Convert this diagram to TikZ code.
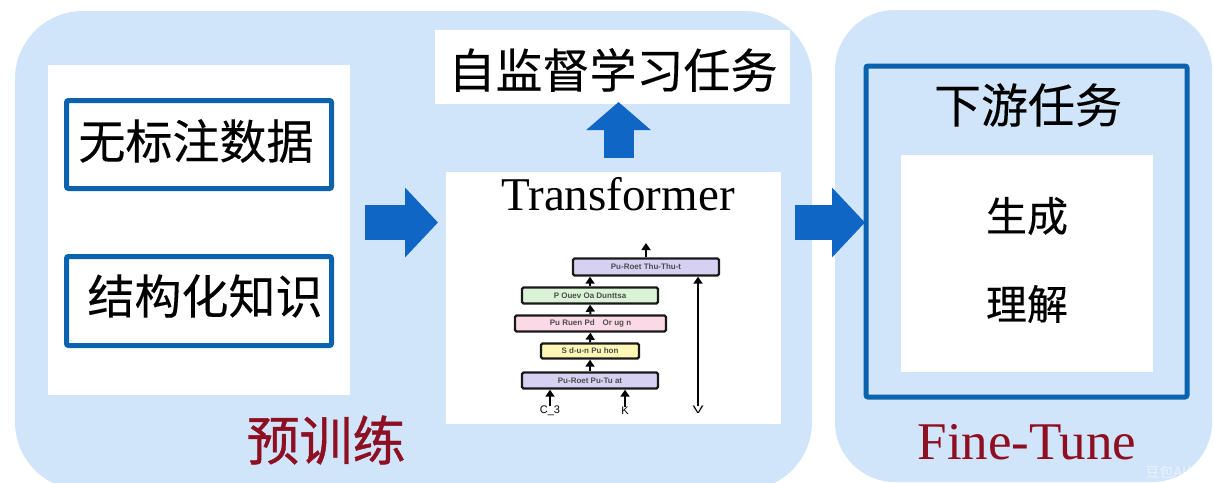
\documentclass[tikz,border=0pt]{standalone}
\usepackage{fontspec}
\setmainfont{Liberation Serif}
\newfontfamily\cjk[FakeBold=0.25]{Noto Sans CJK SC}
\newfontfamily\cjkb[FakeBold=0.8]{Noto Sans CJK SC}
\newfontfamily\cjkplain{Noto Sans CJK SC}
\newfontfamily\smallsans{Liberation Sans}
\usetikzlibrary{arrows.meta,positioning}
\definecolor{panelblue}{HTML}{D0E5FA}
\definecolor{boxblue}{HTML}{0B62AD}
\definecolor{arrowblue}{HTML}{0F66C4}
\definecolor{darkred}{HTML}{8E0E22}
\definecolor{lav}{HTML}{D6D0F2}
\definecolor{mint}{HTML}{DAF3D6}
\definecolor{rosa}{HTML}{FBD9E6}
\definecolor{lemon}{HTML}{FCF7B4}
\tikzset{
  panel/.style={fill=panelblue,draw=none,rounded corners=#1},
  whitebox/.style={fill=white,draw=none},
  framebox/.style={draw=boxblue,line width=5pt,fill=white,rounded corners=2pt},
  zh/.style={font=\cjk\fontsize{47}{50}\selectfont,text=black,inner sep=0pt},
  zhsmall/.style={font=\cjk\fontsize{41}{44}\selectfont,text=black,inner sep=0pt},
  bigarrow/.style={draw=arrowblue,line width=35pt,-{Triangle[length=33pt,width=68pt,fill=arrowblue]}},
  layer/.style={draw=black!90,line width=2.4pt,rounded corners=1.5pt,inner sep=0pt,font=\smallsans\bfseries\fontsize{8}{8}\selectfont,text=black!70},
  thin arrow/.style={draw=black,line width=2pt,-{Triangle[length=7pt,width=9pt]}},
  tiny/.style={font=\smallsans\fontsize{11}{11}\selectfont,inner sep=0pt,text=black},
}
\begin{document}
\begin{tikzpicture}[x=1pt,y=-1pt]
\useasboundingbox (0,0) rectangle (1214,482);
\fill[white] (0,0) rectangle (1214,482);
% panels
\path[panel=68pt] (15,11) rectangle (812,490);
\path[panel=60pt] (835,10) rectangle (1212,482);
% left white block
\node[whitebox,inner sep=0pt,minimum width=302pt,minimum height=330pt] (inputs) at (199,230) {};
\node[framebox,inner sep=0pt,minimum width=265pt,minimum height=88pt] (box1) at (199,144.5) {};
\node[zh] (t1) at (196,141) {无标注数据};
\node[framebox,inner sep=0pt,minimum width=265pt,minimum height=89pt] (box2) at (199,301) {};
\node[zh] (t2) at (205,296) {结构化知识};
% transformer
\node[whitebox,inner sep=0pt,minimum width=335pt,minimum height=252pt] (trans) at (613.5,298) {};
\node[inner sep=0pt,font=\fontsize{47}{50}\selectfont] (ttitle) at (618,194) {Transformer};
\node[whitebox,inner sep=0pt,minimum width=355pt,minimum height=74pt] (task) at (612.5,67) {};
\node[zh] (t3) at (613,70) {自监督学习任务};
% layers
\node[layer,fill=lav,minimum width=146pt,minimum height=17pt] (l5) at (646,267) {Pu-Roet Thu-Thu-t};
\node[layer,fill=mint,minimum width=136pt,minimum height=16pt] (l4) at (590,295.5) {P Ouev Oa Dunttsa};
\node[layer,fill=rosa,minimum width=151pt,minimum height=16pt] (l3) at (590.5,323.5) {Pu Ruen Pd\quad Or ug n\quad};
\node[layer,fill=lemon,minimum width=98pt,minimum height=15pt] (l2) at (590,351) {S d-u-n Pu hon};
\node[layer,fill=lav,minimum width=136pt,minimum height=16pt] (l1) at (590,380.5) {Pu-Roet Pu-Tu at};
\node[tiny] (c3) at (550,411) {C\_3};
\node[tiny] (k) at (625,411) {K};
\node[tiny,xscale=1.5] (v) at (698,410) {V};
\coordinate (out) at (646,243);
\draw[thin arrow] (l5.north -| out) -- (out);
\draw[thin arrow] (l4.north) -- (l4.north |- l5.south);
\draw[thin arrow] (l3.north) -- (l4.south);
\draw[thin arrow] (l2.north) -- (l3.south);
\draw[thin arrow] (l1.north) -- (l2.south);
\draw[thin arrow] (c3.north) -- (c3.north |- l1.south);
\draw[thin arrow] (k.north) -- (k.north |- l1.south);
\draw[thin arrow] (v.north) -- (v.north |- l5.south);
% block arrows
\coordinate (a1s) at (365,222.5);
\coordinate (a1e) at (438,222.5);
\draw[bigarrow] (a1s) -- (a1e);
\coordinate (a2s) at (795,222.5);
\coordinate (a2e) at (865,222.5);
\draw[bigarrow] (a2s) -- (a2e);
\coordinate (a3s) at (618.5,158);
\coordinate (a3e) at (618.5,102);
\draw[draw=arrowblue,line width=30pt,-{Triangle[length=28pt,width=63pt,fill=arrowblue]}] (a3s) -- (a3e);
% downstream
\node[draw=boxblue,line width=5pt,fill=panelblue,rounded corners=2pt,inner sep=0pt,minimum width=321pt,minimum height=331pt] (down) at (1026.5,231.5) {};
\node[zh] (t4) at (1028,105) {下游任务};
\node[whitebox,inner sep=0pt,minimum width=252pt,minimum height=217pt] (inner) at (1027,263.5) {};
\node[zhsmall] (t5) at (1027,216) {生成};
\node[zhsmall] (t6) at (1027,304) {理解};
% captions
\node[inner sep=0pt,text=darkred,font=\cjkb\fontsize{53}{56}\selectfont] (cap1) at (326,440) {预训练};
\node[inner sep=0pt,text=darkred,font=\fontsize{53}{56}\selectfont] (cap2) at (1027,442) {Fine-Tune};
\node[inner sep=0pt,text=white,opacity=.55,font=\cjkplain\fontsize{14}{15}\selectfont] (mark) at (1180,472) {豆包AI生成};
\end{tikzpicture}
\end{document}
